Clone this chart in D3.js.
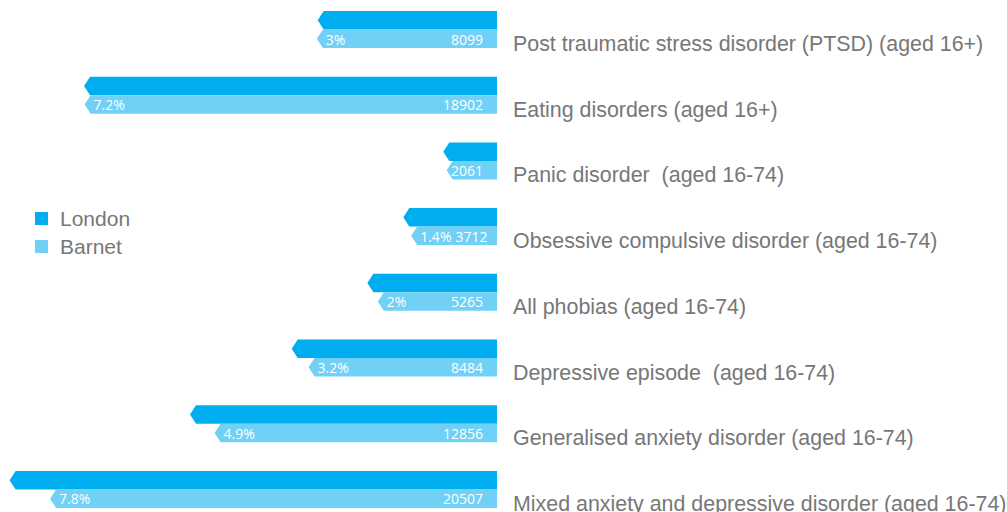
<!DOCTYPE html>
<html>
<head>
<meta charset="utf-8">
<script src="https://cdn.jsdelivr.net/npm/d3@7"></script>
<style>
  html, body { margin: 0; padding: 0; background: #fff; }
  svg { display: block; }
  .label { white-space: pre; }
</style>
</head>
<body>
<svg id="chart" width="1007" height="512"></svg>
<script>
// Data
const categories = [
    "Post traumatic stress disorder (PTSD) (aged 16+)",
    "Eating disorders (aged 16+)",
    "Panic disorder  (aged 16-74)",
    "Obsessive compulsive disorder (aged 16-74)",
    "All phobias (aged 16-74)",
    "Depressive episode  (aged 16-74)",
    "Generalised anxiety disorder (aged 16-74)",
    "Mixed anxiety and depressive disorder (aged 16-74)"
];
const londonValues = [8060, 18930, 2220, 4080, 5750, 9270, 14000, 22390];
const barnetValues = [8099, 18902, 2061, 3712, 5265, 8484, 12856, 20507];
const barnetPct = ["3%", "7.2%", "", "1.4%", "2%", "3.2%", "4.9%", "7.8%"];
const seriesNames = ["London", "Barnet"];

function drawChart() {
    const svg = d3.select("#chart");
    const right = 497, tip = 6, barH = 18.5;
    const colors = { London: "#00aeef", Barnet: "#71d0f6" };

    const y = d3.scaleBand()
        .domain(categories)
        .range([11, 11 + 65.7 * categories.length])
        .paddingInner(0);

    const x = d3.scaleLinear()
        .domain([0, 22000])
        .range([0, 473]);

    // arrow shaped bar pointing left
    function arrow(w, top) {
        const x0 = right - w, mid = top + barH / 2;
        return `M${right},${top}L${x0},${top}L${x0 - tip},${mid}L${x0},${top + barH}L${right},${top + barH}Z`;
    }

    const rows = categories.map((c, i) => ({
        name: c, london: londonValues[i], barnet: barnetValues[i], pct: barnetPct[i]
    }));

    const g = svg.selectAll(".row")
        .data(rows)
        .enter().append("g")
        .attr("class", "row");

    g.append("path")
        .attr("fill", colors.London)
        .attr("d", d => arrow(x(d.london), y(d.name)));

    g.append("path")
        .attr("fill", colors.Barnet)
        .attr("d", d => arrow(x(d.barnet), y(d.name) + barH));

    // percent label at the left of the Barnet bar
    const pct = g.append("text")
        .attr("x", d => right - x(d.barnet) - tip + 9)
        .attr("y", d => y(d.name) + barH + 15)
        .attr("fill", "#fff")
        .style("font-family", "'Open Sans', sans-serif")
        .style("font-size", "14px")
        .text(d => d.pct);

    // count label at the right of the Barnet bar, pushed right if it would hit the percent
    g.append("text")
        .attr("y", d => y(d.name) + barH + 15)
        .attr("text-anchor", "end")
        .attr("fill", "#fff")
        .style("font-family", "'Open Sans', sans-serif")
        .style("font-size", "14px")
        .text(d => d.barnet)
        .attr("x", function(d, i) {
            const p = pct.nodes()[i];
            const pEnd = +p.getAttribute("x") + p.getComputedTextLength();
            const w = this.getComputedTextLength();
            return d.pct ? Math.max(right - 14, pEnd + 4 + w) : right - 14;
        });

    // category labels
    g.append("text")
        .attr("class", "label")
        .attr("x", 513)
        .attr("y", d => y(d.name) + 40)
        .attr("fill", "#777")
        .style("font-family", "'Liberation Sans', Arial, sans-serif")
        .style("font-size", "21.4px")
        .text(d => d.name);

    // Legend
    const legend = svg.selectAll(".legend")
        .data(seriesNames)
        .enter().append("g")
        .attr("transform", (d, i) => `translate(35, ${212 + i * 28})`);

    legend.append("rect")
        .attr("width", 13)
        .attr("height", 13)
        .attr("fill", d => colors[d]);

    legend.append("text")
        .attr("x", 25)
        .attr("y", 13.5)
        .attr("fill", "#777")
        .style("font-family", "'Liberation Sans', Arial, sans-serif")
        .style("font-size", "21px")
        .text(d => d);
}

drawChart();
</script>
</body>
</html>
